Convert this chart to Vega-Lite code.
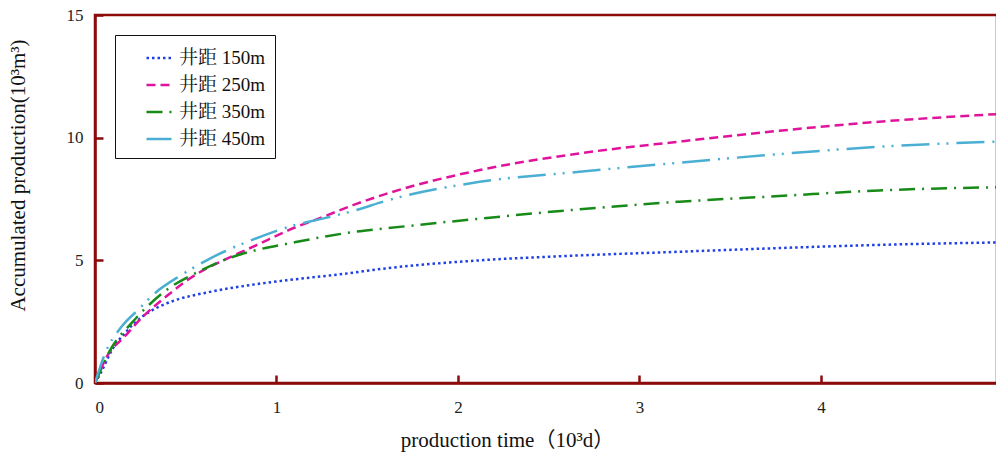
{
  "$schema": "https://vega.github.io/schema/vega-lite/v6.json",
  "width": 902,
  "height": 368,
  "autosize": {"type": "none"},
  "padding": {"left": 95, "top": 15, "right": 0, "bottom": 69},
  "background": "white",
  "data": {
    "values": [
      {"s": "井距 150m", "t": 0, "q": 0},
      {"s": "井距 150m", "t": 0.029, "q": 0.37},
      {"s": "井距 150m", "t": 0.094, "q": 1.35},
      {"s": "井距 150m", "t": 0.167, "q": 2.05},
      {"s": "井距 150m", "t": 0.26, "q": 2.7},
      {"s": "井距 150m", "t": 0.35, "q": 3.1},
      {"s": "井距 150m", "t": 0.44, "q": 3.37},
      {"s": "井距 150m", "t": 0.625, "q": 3.7},
      {"s": "井距 150m", "t": 0.89, "q": 4.03},
      {"s": "井距 150m", "t": 1.07, "q": 4.2},
      {"s": "井距 150m", "t": 1.35, "q": 4.43},
      {"s": "井距 150m", "t": 1.6, "q": 4.67},
      {"s": "井距 150m", "t": 2.12, "q": 5.0},
      {"s": "井距 150m", "t": 2.67, "q": 5.2},
      {"s": "井距 150m", "t": 3.22, "q": 5.35},
      {"s": "井距 150m", "t": 3.77, "q": 5.5},
      {"s": "井距 150m", "t": 4.32, "q": 5.63},
      {"s": "井距 150m", "t": 4.97, "q": 5.73},
      {"s": "井距 250m", "t": 0, "q": 0},
      {"s": "井距 250m", "t": 0.075, "q": 1.2},
      {"s": "井距 250m", "t": 0.158, "q": 1.85},
      {"s": "井距 250m", "t": 0.25, "q": 2.6},
      {"s": "井距 250m", "t": 0.415, "q": 3.66},
      {"s": "井距 250m", "t": 0.51, "q": 4.2},
      {"s": "井距 250m", "t": 0.61, "q": 4.65},
      {"s": "井距 250m", "t": 0.71, "q": 5.01},
      {"s": "井距 250m", "t": 0.89, "q": 5.62},
      {"s": "井距 250m", "t": 1.07, "q": 6.24},
      {"s": "井距 250m", "t": 1.26, "q": 6.78},
      {"s": "井距 250m", "t": 1.44, "q": 7.3},
      {"s": "井距 250m", "t": 1.6, "q": 7.7},
      {"s": "井距 250m", "t": 2.12, "q": 8.68},
      {"s": "井距 250m", "t": 2.67, "q": 9.36},
      {"s": "井距 250m", "t": 3.22, "q": 9.84},
      {"s": "井距 250m", "t": 3.77, "q": 10.28},
      {"s": "井距 250m", "t": 4.32, "q": 10.65},
      {"s": "井距 250m", "t": 4.97, "q": 10.96},
      {"s": "井距 350m", "t": 0, "q": 0},
      {"s": "井距 350m", "t": 0.094, "q": 1.47},
      {"s": "井距 350m", "t": 0.2, "q": 2.43},
      {"s": "井距 350m", "t": 0.3, "q": 3.2},
      {"s": "井距 350m", "t": 0.415, "q": 3.9},
      {"s": "井距 350m", "t": 0.56, "q": 4.5},
      {"s": "井距 350m", "t": 0.71, "q": 5.01},
      {"s": "井距 350m", "t": 0.89, "q": 5.42},
      {"s": "井距 350m", "t": 1.07, "q": 5.69},
      {"s": "井距 350m", "t": 1.26, "q": 5.96},
      {"s": "井距 350m", "t": 1.44, "q": 6.17},
      {"s": "井距 350m", "t": 1.6, "q": 6.3},
      {"s": "井距 350m", "t": 2.12, "q": 6.7},
      {"s": "井距 350m", "t": 2.67, "q": 7.08},
      {"s": "井距 350m", "t": 3.22, "q": 7.39},
      {"s": "井距 350m", "t": 3.77, "q": 7.62},
      {"s": "井距 350m", "t": 4.32, "q": 7.85},
      {"s": "井距 350m", "t": 4.97, "q": 7.98},
      {"s": "井距 450m", "t": 0, "q": 0},
      {"s": "井距 450m", "t": 0.055, "q": 1.2},
      {"s": "井距 450m", "t": 0.147, "q": 2.3},
      {"s": "井距 450m", "t": 0.24, "q": 3.0},
      {"s": "井距 450m", "t": 0.33, "q": 3.66},
      {"s": "井距 450m", "t": 0.48, "q": 4.42},
      {"s": "井距 450m", "t": 0.61, "q": 4.98},
      {"s": "井距 450m", "t": 0.71, "q": 5.35},
      {"s": "井距 450m", "t": 0.89, "q": 5.9},
      {"s": "井距 450m", "t": 1.07, "q": 6.37},
      {"s": "井距 450m", "t": 1.26, "q": 6.71},
      {"s": "井距 450m", "t": 1.44, "q": 7.05},
      {"s": "井距 450m", "t": 1.6, "q": 7.42},
      {"s": "井距 450m", "t": 2.12, "q": 8.2},
      {"s": "井距 450m", "t": 2.67, "q": 8.61},
      {"s": "井距 450m", "t": 3.22, "q": 8.98},
      {"s": "井距 450m", "t": 3.77, "q": 9.33},
      {"s": "井距 450m", "t": 4.32, "q": 9.63},
      {"s": "井距 450m", "t": 4.97, "q": 9.84}
    ]
  },
  "mark": {"type": "line", "strokeWidth": 2.5, "interpolate": "monotone", "clip": true},
  "encoding": {
    "x": {
      "field": "t", "type": "quantitative",
      "scale": {"domain": [0, 4.97], "nice": false, "zero": true},
      "axis": {
        "values": [0, 1, 2, 3, 4],
        "title": "production time（10³d）",
        "titleX": 412, "titleY": 63, "titleAnchor": null, "titleAlign": "center", "titleBaseline": "alphabetic",
        "titleFontSize": 21,
        "labelPadding": 24, "grid": false
      }
    },
    "y": {
      "field": "q", "type": "quantitative",
      "scale": {"domain": [0, 15], "nice": false},
      "axis": {
        "values": [0, 5, 10, 15],
        "title": "Accumulated production(10³m³)",
        "titleX": -77, "titleY": 160, "titleAngle": -90, "titleAlign": "center", "titleBaseline": "middle",
        "titleFontSize": 21,
        "labelPadding": 20, "grid": false
      }
    },
    "color": {
      "field": "s", "type": "nominal", "title": null,
      "scale": {"domain": ["井距 150m", "井距 250m", "井距 350m", "井距 450m"], "range": ["#1f3fe6", "#e0149c", "#178a17", "#4aafd2"]}
    },
    "strokeDash": {
      "field": "s", "type": "nominal", "title": null,
      "scale": {"domain": ["井距 150m", "井距 250m", "井距 350m", "井距 450m"], "range": [[2.5, 3], [9, 5], [16, 7, 2, 7], [28, 8, 2, 7, 2, 8]]}
    }
  },
  "config": {
    "view": {"stroke": "#8b0a0a", "strokeWidth": 2.5},
    "font": "Times New Roman, Liberation Serif, Noto Serif CJK SC, Noto Sans CJK SC",
    "axis": {
      "domainColor": "#8b0a0a", "domainWidth": 2.5,
      "tickColor": "#8b0a0a", "tickWidth": 2.5, "tickSize": -8,
      "labelFont": "Times New Roman, Liberation Serif", "labelFontSize": 17, "labelColor": "#222",
      "titleFont": "Times New Roman, Liberation Serif, Noto Sans CJK SC", "titleFontWeight": "normal", "titleColor": "#111"
    },
    "legend": {
      "orient": "none", "legendX": 20, "legendY": 20,
      "strokeColor": "#111", "fillColor": "white", "padding": 9, "cornerRadius": 0,
      "symbolType": "stroke", "symbolSize": 625, "symbolStrokeWidth": 2.5, "symbolOffset": 21,
      "labelFont": "Times New Roman, Liberation Serif, Noto Serif CJK SC, Noto Sans CJK SC", "labelFontSize": 19, "labelColor": "#111", "labelOffset": 6,
      "rowPadding": 3
    }
  }
}
